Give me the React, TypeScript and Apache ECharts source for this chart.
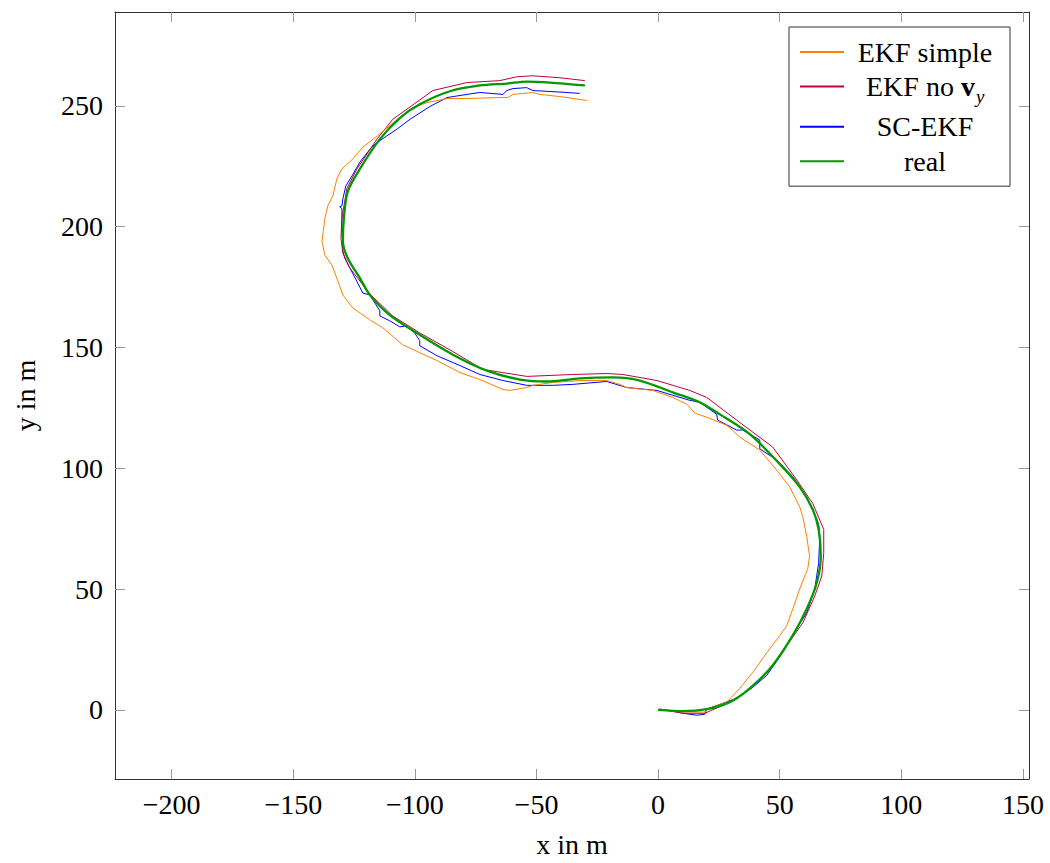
import { useEffect, useRef } from "react";
import * as echarts from "echarts";

// Axis tick positions (metres)
const xTicks = [-200, -150, -100, -50, 0, 50, 100, 150];
const yTicks = [0, 50, 100, 150, 200, 250];

// Trajectories as [x, y] in metres
const ekfSimple: [number, number][] = [
  [0.7, 0.3], [10.2, -0.9], [19.2, -0.9], [20.0, 0.3], [28.2, 3.2], [33.6, 8.9], [38.9, 15.5],
  [44.7, 23.7], [50.0, 30.7], [52.9, 34.8], [55.4, 41.8], [58.2, 50.0], [60.3, 55.4], [61.5, 58.2],
  [62.3, 63.6], [61.1, 71.8], [59.5, 80.0], [58.2, 84.1], [54.1, 92.3], [48.7, 99.3], [41.8, 107.5],
  [33.6, 112.9], [28.2, 117.8], [20.0, 121.1], [15.1, 122.8], [11.8, 126.5], [6.0, 129.3],
  [-2.2, 132.2], [-12.9, 133.4], [-15.7, 134.7], [-21.1, 136.3], [-32.2, 136.3], [-43.3, 135.5],
  [-51.5, 134.3], [-54.0, 133.4], [-61.0, 132.2], [-63.8, 132.6], [-73.3, 136.7], [-81.5, 139.6],
  [-91.0, 144.6], [-98.0, 147.8], [-105.0, 151.1], [-113.2, 158.1], [-118.5, 161.4], [-125.5, 166.3],
  [-129.6, 171.7], [-132.1, 178.7], [-134.1, 184.0], [-137.0, 188.1], [-138.2, 193.9], [-137.0, 203.4],
  [-135.8, 208.6], [-133.7, 212.8], [-132.1, 219.7], [-130.0, 223.9], [-125.5, 228.0], [-121.4, 232.9],
  [-115.6, 237.4], [-106.2, 245.2], [-100.8, 249.3], [-95.0, 251.3], [-86.8, 253.0], [-78.6, 253.0],
  [-65.1, 253.4], [-61.8, 253.4], [-59.7, 254.7], [-51.5, 255.5], [-48.6, 254.7], [-40.4, 253.8],
  [-29.3, 252.2],
];

const ekfNoVy: [number, number][] = [
  [0.7, 0.3], [10.2, -1.4], [19.2, -1.4], [29.5, 3.2], [37.7, 8.5], [44.7, 15.5], [50.0, 22.5],
  [59.5, 36.0], [64.4, 47.1], [67.3, 55.4], [68.1, 64.8], [68.1, 74.7], [63.6, 85.4], [57.0, 95.2],
  [47.1, 108.8], [32.3, 119.9], [20.0, 129.3], [13.0, 132.2], [-0.5, 136.3], [-14.5, 138.8],
  [-21.1, 139.2], [-35.1, 138.8], [-54.0, 138.0], [-72.1, 140.9], [-84.4, 148.3], [-98.0, 156.0],
  [-109.1, 163.0], [-118.5, 172.1], [-126.7, 182.8], [-129.6, 189.0], [-130.4, 195.1], [-130.0, 203.4],
  [-128.0, 215.7], [-123.8, 223.9], [-115.6, 236.2], [-109.1, 244.4], [-92.6, 256.3], [-78.6, 259.6],
  [-65.1, 260.4], [-58.1, 262.0], [-51.5, 262.4], [-40.4, 261.6], [-30.1, 260.4],
];

const scEkf: [number, number][] = [
  [0.7, 0.3], [6.0, -0.5], [10.2, -1.4], [15.9, -2.2], [19.2, -1.8], [20.0, 0.3], [32.3, 4.8],
  [38.9, 9.3], [44.7, 14.3], [51.2, 23.7], [57.0, 33.6], [61.1, 40.2], [64.4, 50.0], [66.0, 60.7],
  [66.5, 71.8], [66.0, 77.1], [65.2, 78.8], [61.1, 88.2], [55.4, 96.5], [48.7, 103.5], [41.8, 108.0],
  [41.8, 111.7], [34.8, 115.8], [32.3, 115.8], [24.5, 119.9], [24.1, 122.3], [17.1, 127.3],
  [13.0, 128.1], [6.0, 130.2], [-0.5, 132.2], [-12.9, 133.4], [-21.1, 135.9], [-35.1, 134.7],
  [-43.3, 134.3], [-54.0, 134.3], [-63.8, 136.3], [-73.3, 138.8], [-81.5, 142.5], [-91.0, 146.6],
  [-98.0, 150.7], [-98.0, 152.8], [-100.1, 156.0], [-103.4, 158.9], [-106.2, 158.5], [-110.3, 161.0],
  [-114.4, 163.0], [-114.4, 165.1], [-118.5, 171.7], [-121.4, 172.5], [-123.9, 177.4], [-126.7, 182.8],
  [-128.8, 186.9], [-129.6, 189.8], [-130.0, 199.2], [-130.0, 207.4], [-130.9, 208.2], [-130.0, 208.6],
  [-129.6, 211.5], [-128.4, 216.8], [-125.9, 220.9], [-122.6, 226.7], [-118.5, 232.0], [-116.4, 234.1],
  [-112.3, 237.0], [-107.4, 240.3], [-102.0, 244.4], [-93.8, 249.7], [-86.8, 253.4], [-78.6, 254.7],
  [-73.3, 255.5], [-63.8, 254.7], [-62.2, 256.3], [-59.7, 257.1], [-54.0, 257.5], [-51.5, 256.3],
  [-44.5, 255.9], [-37.5, 255.5], [-32.2, 255.1],
];

const real: [number, number][] = [
  [0.0, 0.0], [10.2, -0.5], [20.0, 0.3], [29.5, 3.2], [37.7, 8.9], [47.1, 18.4], [55.3, 30.7],
  [61.1, 41.8], [65.2, 52.5], [66.9, 63.6], [66.0, 74.7], [63.6, 82.9], [58.2, 92.3], [50.0, 101.8],
  [37.7, 114.1], [25.4, 122.3], [17.1, 127.3], [6.0, 131.4], [-7.5, 136.3], [-18.6, 137.6],
  [-32.2, 137.2], [-45.7, 135.9], [-56.8, 136.7], [-70.4, 140.4], [-84.4, 147.0], [-98.0, 155.2],
  [-110.3, 163.4], [-118.5, 171.7], [-122.6, 178.7], [-127.6, 186.9], [-129.6, 193.9], [-129.2, 203.4],
  [-127.6, 214.5], [-122.6, 223.9], [-114.4, 236.2], [-106.2, 244.9], [-98.0, 250.6], [-85.6, 256.0],
  [-73.3, 258.4], [-62.2, 259.2], [-54.0, 260.0], [-44.5, 259.6], [-30.1, 258.4],
];

const seriesNames = ["EKF simple", "EKF no v_y", "SC-EKF", "real"];
const seriesColors = ["#ff8000", "#bf0040", "#0000ff", "#009900"];
const seriesWidths = [1, 1, 1, 2.3];
const seriesSmooth = [0, 0, 0, 0.3];
const seriesData = [ekfSimple, ekfNoVy, scEkf, real];

const X_MIN = -223.3;
const X_MAX = 152.5;
const Y_MIN = -28.6;
const Y_MAX = 288.8;

const FONT = "'Liberation Serif', 'DejaVu Serif', serif";

const fmt = (v: number) => (v < 0 ? "\u2212" + Math.abs(v) : String(v));

export default function App() {
  const ref = useRef<HTMLDivElement>(null);

  useEffect(() => {
    if (!ref.current) return;
    const chart = echarts.init(ref.current, undefined, { renderer: "svg" });

    const frameLine = { show: true, onZero: false, lineStyle: { color: "#333", width: 1 } };
    const tickStyle = { show: true, inside: true, length: 10, lineStyle: { color: "#999", width: 1 } };

    chart.setOption({
      animation: false,
      backgroundColor: "#fff",
      grid: { left: 115, top: 12, width: 914, height: 772, containLabel: false },
      xAxis: [
        {
          type: "value",
          min: X_MIN,
          max: X_MAX,
          position: "bottom",
          name: "x in m",
          nameLocation: "middle",
          nameGap: 51,
          nameTextStyle: { fontFamily: FONT, fontSize: 28, color: "#000" },
          axisLine: frameLine,
          axisTick: { ...tickStyle, customValues: xTicks },
          axisLabel: {
            customValues: xTicks,
            formatter: fmt,
            margin: 11,
            fontFamily: FONT,
            fontSize: 28,
            color: "#000",
          },
          splitLine: { show: false },
        },
        {
          type: "value",
          min: X_MIN,
          max: X_MAX,
          position: "top",
          axisLine: frameLine,
          axisTick: { ...tickStyle, customValues: xTicks },
          axisLabel: { show: false },
          splitLine: { show: false },
        },
      ],
      yAxis: [
        {
          type: "value",
          min: Y_MIN,
          max: Y_MAX,
          position: "left",
          name: "y in m",
          nameLocation: "middle",
          nameGap: 76,
          nameRotate: 90,
          nameTextStyle: { fontFamily: FONT, fontSize: 28, color: "#000" },
          axisLine: frameLine,
          axisTick: { ...tickStyle, customValues: yTicks },
          axisLabel: {
            customValues: yTicks,
            formatter: fmt,
            margin: 12,
            fontFamily: FONT,
            fontSize: 28,
            color: "#000",
          },
          splitLine: { show: false },
        },
        {
          type: "value",
          min: Y_MIN,
          max: Y_MAX,
          position: "right",
          axisLine: frameLine,
          axisTick: { ...tickStyle, customValues: yTicks },
          axisLabel: { show: false },
          splitLine: { show: false },
        },
      ],
      legend: {
        orient: "vertical",
        left: 789,
        top: 27,
        padding: [11, 9, 11, 10],
        itemGap: 6.4,
        itemWidth: 44,
        itemHeight: 14,
        itemStyle: { opacity: 0 },
        borderColor: "#333",
        borderWidth: 1,
        backgroundColor: "#fff",
        data: seriesNames,
        formatter: (name: string) =>
          name === "EKF no v_y" ? "{p| }{n|EKF no }{b|v}{s|y}" : `{c|${name}}`,
        textStyle: {
          fontFamily: FONT,
          fontSize: 28,
          color: "#000",
          rich: {
            c: { fontFamily: FONT, fontSize: 28, lineHeight: 28, width: 152, align: "center", color: "#000" },
            p: { fontFamily: FONT, fontSize: 28, lineHeight: 28, width: 17 },
            n: { fontFamily: FONT, fontSize: 28, lineHeight: 28, color: "#000" },
            b: { fontFamily: FONT, fontSize: 28, lineHeight: 28, fontWeight: "bold", color: "#000" },
            s: {
              fontFamily: FONT,
              fontSize: 19,
              fontStyle: "italic",
              lineHeight: 13,
              padding: [15, 0, 0, 1],
              verticalAlign: "top",
              color: "#000",
            },
          },
        },
      },
      series: seriesNames.map((name, i) => ({
        name,
        type: "line",
        data: seriesData[i],
        symbol: "none",
        showSymbol: false,
        smooth: seriesSmooth[i],
        color: seriesColors[i],
        lineStyle: { color: seriesColors[i], width: seriesWidths[i] },
        z: i === 3 ? 4 : 3 - i,
      })),
    });

    return () => chart.dispose();
  }, []);

  return (
    <div
      ref={ref}
      style={{ position: "fixed", left: 0, top: 0, width: 1050, height: 863, background: "#fff" }}
    />
  );
}
